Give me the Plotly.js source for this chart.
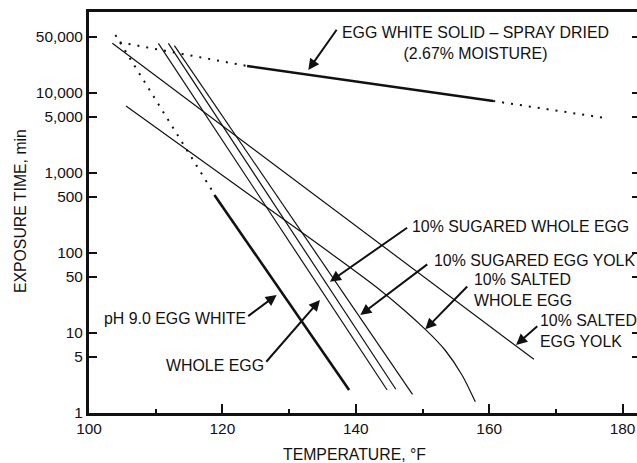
<!DOCTYPE html>
<html>
<head>
<meta charset="utf-8">
<script src="https://cdn.plot.ly/plotly-3.0.1.min.js"></script>
<style>html,body{margin:0;padding:0;background:#fff;}#chart{width:637px;height:463px;}</style>
</head>
<body>
<div id="chart"></div>
<script>
// ---- Data (temperature °F, exposure time min) ----
const ph9DottedX = [103.96, 118.4];
const ph9DottedY = [53100, 613];
const ph9SolidX = [118.8, 139.0];
const ph9SolidY = [531, 1.94];

const sprayDotted1X = [104.6, 123.7];
const sprayDotted1Y = [43000, 21760];
const spraySolidX = [123.7, 160.6];
const spraySolidY = [21760, 7940];
const sprayDotted2X = [160.6, 177.1];
const sprayDotted2Y = [7940, 4910];

const wholeEggX = [110.4, 144.7];
const wholeEggY = [41800, 1.94];
const sugaredWholeEggX = [111.9, 146.0];
const sugaredWholeEggY = [41800, 1.98];
const sugaredYolkX = [112.8, 148.5];
const sugaredYolkY = [39000, 1.71];
const saltedYolkX = [103.5, 166.7];
const saltedYolkY = [41800, 4.69];
const saltedWholeEggX = [105.55, 134.18, 143.63, 150.42, 153.37, 155.92, 157.92];
const saltedWholeEggY = [6880, 132, 34.5, 11.1, 6.13, 2.99, 1.38];

const yTickVals = [1, 5, 10, 50, 100, 500, 1000, 5000, 10000, 50000];
const yTickText = ['1', '5', '10', '50', '100', '500', '1,000', '5,000', '10,000', '50,000'];
const xTickVals = [100, 120, 140, 160, 180];
const xTickText = ['100', '120', '140', '160', '180'];
const xMinorVals = [110, 130, 150, 170];

// Labels: [text, x, y(value), xanchor]
const labelTexts = ['EGG WHITE SOLID – SPRAY DRIED<br>(2.67% MOISTURE)', '10% SUGARED WHOLE EGG', '10% SUGARED EGG YOLK', '10% SALTED<br>WHOLE EGG', '10% SALTED<br>EGG YOLK', 'pH 9.0 EGG WHITE', 'WHOLE EGG'];
const labelX = [158.0, 148.35, 151.6, 157.5, 167.5, 102.05, 111.42];
const labelY = [41800, 217.5, 80.2, 34.0, 10.5, 15.3, 3.87];
const labelAnchor = ['center', 'left', 'left', 'left', 'left', 'left', 'left'];
// Arrow tips (data) and tail offsets
const arrowX = [132.88, 136.12, 140.68, 150.42, 164.03, 128.14, 134.63];
const arrowY = [19390, 43.8, 16.8, 11.1, 7.08, 29.9, 25.9];
const arrowAX = [29.4, 78.7, 68.4, 43.4, 22.7, -30, -55];
const arrowAY = [-41.7, -55, -51.7, -44.3, -20, 22.3, 63.3];

const ink = '#111';
const dotDash = '2px,7px';

function line(x, y, w, dash, shape) {
  return {x: x, y: y, type: 'scatter', mode: 'lines', hoverinfo: 'skip',
    line: {color: ink, width: w, dash: dash || 'solid', shape: shape || 'linear', smoothing: 0.8}};
}

const traces = [
  line(ph9DottedX, ph9DottedY, 2, dotDash),
  line(ph9SolidX, ph9SolidY, 2.6),
  line(sprayDotted1X, sprayDotted1Y, 2, dotDash),
  line(spraySolidX, spraySolidY, 2.6),
  line(sprayDotted2X, sprayDotted2Y, 2, dotDash),
  line(wholeEggX, wholeEggY, 1.2),
  line(sugaredWholeEggX, sugaredWholeEggY, 1.2),
  line(sugaredYolkX, sugaredYolkY, 1.2),
  line(saltedYolkX, saltedYolkY, 1.2),
  line(saltedWholeEggX, saltedWholeEggY, 1.2, 'solid', 'spline'),
  {x: [100], y: [1], yaxis: 'y2', type: 'scatter', mode: 'markers', marker: {opacity: 0}, hoverinfo: 'skip'}
];

const font = {family: '"Liberation Sans", Arial, sans-serif', color: ink};

const annotations = [];
for (let i = 0; i < labelTexts.length; i++) {
  annotations.push({x: labelX[i], y: Math.log10(labelY[i]), xref: 'x', yref: 'y', text: labelTexts[i],
    showarrow: false, xanchor: labelAnchor[i], yanchor: 'middle', align: labelAnchor[i] === 'center' ? 'center' : 'left',
    font: Object.assign({}, font, {size: 15.9}), borderpad: 0});
  annotations.push({x: arrowX[i], y: Math.log10(arrowY[i]), xref: 'x', yref: 'y', text: '',
    showarrow: true, ax: arrowAX[i], ay: arrowAY[i], arrowhead: 2, arrowsize: 1.1, arrowwidth: 2, arrowcolor: ink});
}
annotations.push({xref: 'paper', yref: 'paper', x: 0.4854, y: -0.1047, text: 'TEMPERATURE, °F', showarrow: false,
  xanchor: 'center', yanchor: 'middle', font: Object.assign({}, font, {size: 15.8})});
annotations.push({xref: 'paper', yref: 'paper', x: -0.1259, y: 0.5037, text: 'EXPOSURE TIME, min', showarrow: false,
  textangle: -90, xanchor: 'center', yanchor: 'middle', font: Object.assign({}, font, {size: 15.8})});

const layout = {
  width: 637, height: 463,
  margin: {l: 89, r: 0, t: 12, b: 50},
  paper_bgcolor: '#fff', plot_bgcolor: '#fff',
  showlegend: false,
  font: Object.assign({}, font, {size: 15}),
  xaxis: {range: [100, 182.16], tickvals: xTickVals, ticktext: xTickText, ticks: 'inside', ticklen: 9, tickwidth: 2, tickcolor: ink,
    minor: {tickvals: xMinorVals, ticks: 'inside', ticklen: 4, tickwidth: 2, tickcolor: ink, showgrid: false},
    showline: true, linewidth: 3, linecolor: ink, mirror: true, showgrid: false, zeroline: false,
    tickfont: Object.assign({}, font, {size: 15.4})},
  yaxis: {type: 'log', range: [0, 5.0125], tickvals: yTickVals, ticktext: yTickText, ticks: 'inside', ticklen: 8, tickwidth: 2, tickcolor: ink,
    showline: true, linewidth: 3, linecolor: ink, showgrid: false, zeroline: false,
    tickfont: Object.assign({}, font, {size: 15.4})},
  yaxis2: {type: 'log', range: [0, 5.0125], overlaying: 'y', side: 'right', tickvals: yTickVals, ticks: 'inside', ticklen: 5, tickwidth: 2,
    tickcolor: ink, showticklabels: false, showline: false, showgrid: false, zeroline: false},
  annotations: annotations
};

Plotly.newPlot('chart', traces, layout, {staticPlot: true, displayModeBar: false});
</script>
</body>
</html>
